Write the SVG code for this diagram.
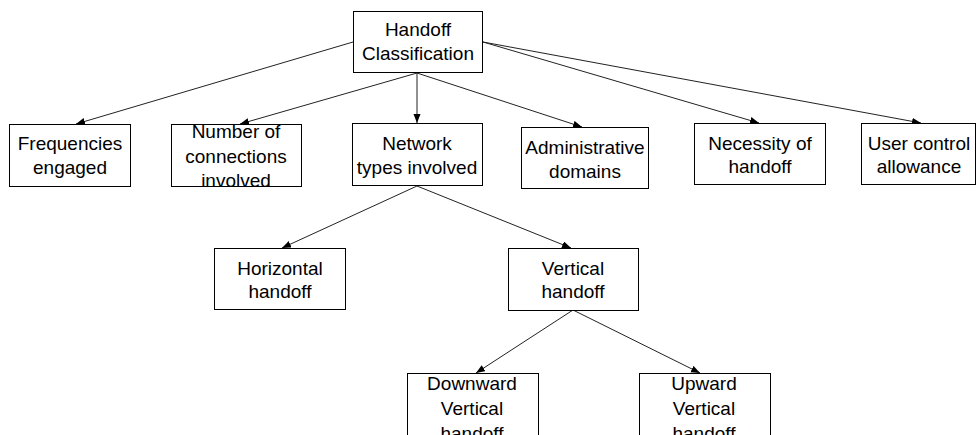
<svg xmlns="http://www.w3.org/2000/svg" width="979" height="435" viewBox="0 0 979 435">
  <style>
    .box { fill: #ffffff; stroke: #000000; stroke-width: 1; }
    .lbl { font-family: "Liberation Sans", Arial, sans-serif; font-size: 19px; fill: #000000; text-anchor: middle; }
    .edge { stroke: #222222; stroke-width: 1; fill: none; marker-end: url(#arrow); }
  </style>
  <defs>
    <marker id="arrow" markerUnits="userSpaceOnUse" markerWidth="10" markerHeight="8" refX="9" refY="3.5" orient="auto">
      <path d="M0,0 L9,3.5 L0,7 z" fill="#000000"/>
    </marker>
  </defs>
  <rect width="979" height="435" fill="#ffffff"/>

  <g id="connectors">
    <line class="edge" x1="353" y1="42" x2="76" y2="124"/>
    <line class="edge" x1="417" y1="73" x2="240" y2="124"/>
    <line class="edge" x1="417" y1="73" x2="417" y2="123"/>
    <line class="edge" x1="417" y1="73" x2="582" y2="127"/>
    <line class="edge" x1="483" y1="42" x2="759" y2="123"/>
    <line class="edge" x1="483" y1="42" x2="921" y2="123"/>
    <line class="edge" x1="417" y1="186" x2="282" y2="248"/>
    <line class="edge" x1="417" y1="186" x2="571" y2="248"/>
    <line class="edge" x1="573" y1="310" x2="476" y2="373"/>
    <line class="edge" x1="573" y1="310" x2="700" y2="373"/>
  </g>

  <g id="handoff-classification">
    <rect class="box" x="353.5" y="11.5" width="129" height="61"/>
    <text class="lbl" x="418" y="36">Handoff</text>
    <text class="lbl" x="418" y="60">Classification</text>
  </g>

  <g id="frequencies-engaged">
    <rect class="box" x="9.5" y="124.5" width="121" height="62"/>
    <text class="lbl" x="70" y="150">Frequencies</text>
    <text class="lbl" x="70" y="174">engaged</text>
  </g>

  <g id="number-of-connections">
    <rect class="box" x="171.5" y="124.5" width="130" height="62"/>
    <text class="lbl" x="236" y="138">Number of</text>
    <text class="lbl" x="236" y="162.5">connections</text>
    <text class="lbl" x="236" y="187">involved</text>
  </g>

  <g id="network-types">
    <rect class="box" x="352.5" y="123.5" width="130" height="62"/>
    <text class="lbl" x="417" y="150">Network</text>
    <text class="lbl" x="417" y="174">types involved</text>
  </g>

  <g id="administrative-domains">
    <rect class="box" x="521.5" y="127.5" width="127" height="61"/>
    <text class="lbl" x="585" y="154">Administrative</text>
    <text class="lbl" x="585" y="178">domains</text>
  </g>

  <g id="necessity-of-handoff">
    <rect class="box" x="694.5" y="123.5" width="131" height="61"/>
    <text class="lbl" x="760" y="150">Necessity of</text>
    <text class="lbl" x="760" y="173">handoff</text>
  </g>

  <g id="user-control-allowance">
    <rect class="box" x="861.5" y="123.5" width="114" height="61"/>
    <text class="lbl" x="919" y="150">User control</text>
    <text class="lbl" x="919" y="173">allowance</text>
  </g>

  <g id="horizontal-handoff">
    <rect class="box" x="214.5" y="248.5" width="131" height="61"/>
    <text class="lbl" x="280" y="275">Horizontal</text>
    <text class="lbl" x="280" y="298">handoff</text>
  </g>

  <g id="vertical-handoff">
    <rect class="box" x="508.5" y="248.5" width="130" height="62"/>
    <text class="lbl" x="573" y="275">Vertical</text>
    <text class="lbl" x="573" y="298">handoff</text>
  </g>

  <g id="downward-vertical-handoff">
    <rect class="box" x="407.5" y="373.5" width="131" height="80"/>
    <text class="lbl" x="472" y="390">Downward</text>
    <text class="lbl" x="472" y="415">Vertical</text>
    <text class="lbl" x="472" y="440">handoff</text>
  </g>

  <g id="upward-vertical-handoff">
    <rect class="box" x="639.5" y="373.5" width="131" height="80"/>
    <text class="lbl" x="704" y="390">Upward</text>
    <text class="lbl" x="704" y="415">Vertical</text>
    <text class="lbl" x="704" y="440">handoff</text>
  </g>
</svg>
